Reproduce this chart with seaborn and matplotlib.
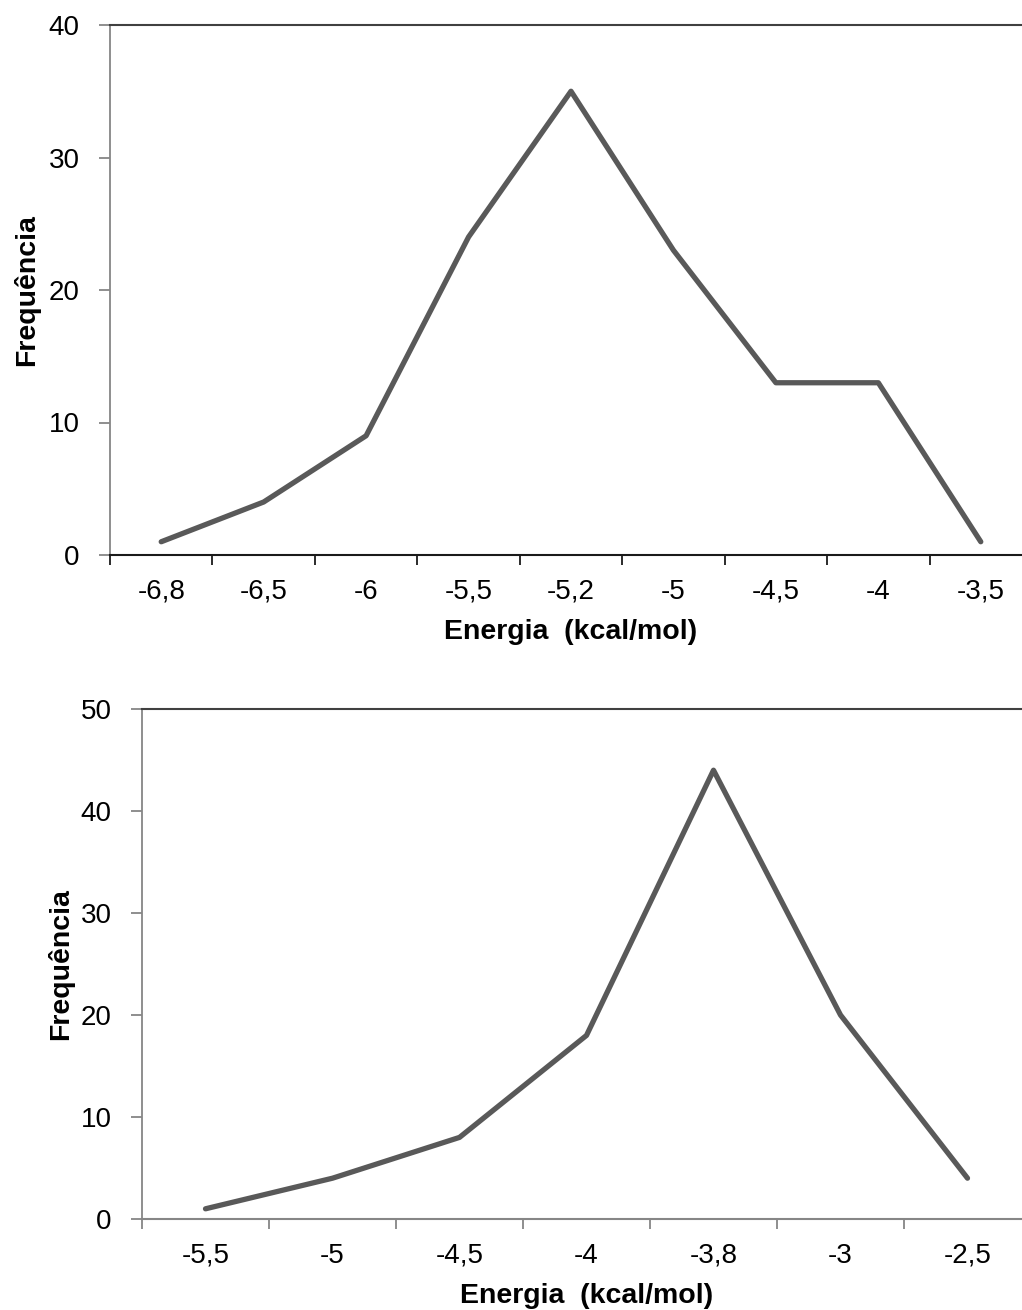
import matplotlib
matplotlib.use("Agg")
import matplotlib.pyplot as plt
import seaborn as sns
import pandas as pd
from matplotlib.ticker import FixedLocator

# Dados
energia_1 = ["-6,8", "-6,5", "-6", "-5,5", "-5,2", "-5", "-4,5", "-4", "-3,5"]
freq_1 = [1, 4, 9, 24, 35, 23, 13, 13, 1]

energia_2 = ["-5,5", "-5", "-4,5", "-4", "-3,8", "-3", "-2,5"]
freq_2 = [1, 4, 8, 18, 44, 20, 4]

sns.set_style("white")
plt.rcParams["font.family"] = ["Liberation Sans", "DejaVu Sans"]
plt.rcParams["text.color"] = "black"
plt.rcParams["axes.labelcolor"] = "black"

fig = plt.figure(figsize=(10.22, 13.10), dpi=100)

# eixos posicionados como no original (o lado direito passa da borda)
ax1 = fig.add_axes([110 / 1022, 1 - 555 / 1310, 922 / 1022, 530 / 1310])
ax2 = fig.add_axes([142 / 1022, 1 - 1219 / 1310, 889 / 1022, 510 / 1310])


def desenhar(ax, cats, vals, ymax, cor_base, ylab_x, xlab_y):
    df = pd.DataFrame({"energia": cats, "freq": vals})
    sns.lineplot(data=df, x="energia", y="freq", sort=False, color="#595959",
                 linewidth=3.8, ax=ax)
    n = len(cats)
    ax.set_xlim(-0.5, n - 0.5)
    ax.set_ylim(0, ymax)
    ax.set_yticks(range(0, ymax + 1, 10))
    ax.set_xticks(range(n))
    ax.set_xticklabels(cats)
    ax.xaxis.set_minor_locator(FixedLocator([i - 0.5 for i in range(n + 1)]))

    ax.tick_params(axis="x", which="major", length=0, pad=17, labelsize=20,
                   labelcolor="black")
    ax.tick_params(axis="x", which="minor", length=7.5, width=1.3,
                   color=cor_base, direction="out")
    ax.tick_params(axis="y", length=8, width=1.3, color="#868686", pad=14,
                   labelsize=20, direction="out", labelcolor="black")
    ax.tick_params(bottom=True, left=True, which="both")

    for s in ["top", "bottom", "left", "right"]:
        ax.spines[s].set_visible(True)
    ax.spines["right"].set_visible(False)
    ax.spines["left"].set_color("#868686")
    ax.spines["left"].set_linewidth(1.3)
    ax.spines["top"].set_color("#404040")
    ax.spines["top"].set_linewidth(1.5)
    ax.spines["bottom"].set_color(cor_base)
    ax.spines["bottom"].set_linewidth(1.5)

    ax.set_xlabel("Energia  (kcal/mol)", fontsize=20.5, fontweight="bold")
    ax.set_ylabel("Frequência", fontsize=20.5, fontweight="bold")
    ax.xaxis.set_label_coords(0.5, xlab_y)
    ax.yaxis.set_label_coords(ylab_x, 0.5)
    ax.grid(False)


desenhar(ax1, energia_1, freq_1, 40, "#1a1a1a", -0.076, -0.12)
desenhar(ax2, energia_2, freq_2, 50, "#868686", -0.076, -0.125)

fig.savefig("out.png", dpi=100, facecolor="white")
